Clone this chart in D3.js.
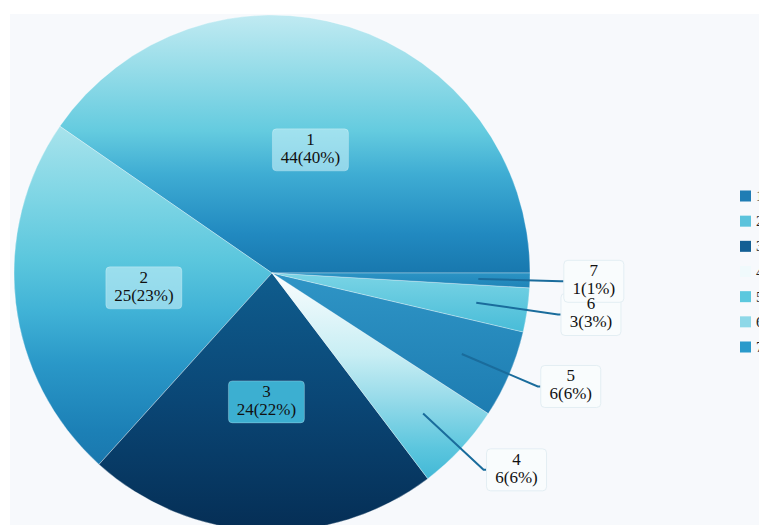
<!DOCTYPE html>
<html lang="en">
<head>
    <meta charset="UTF-8">
    <title>Pie chart</title>
    <script src="https://d3js.org/d3.v7.min.js"></script>
    <style>
        body { margin: 0; background: #ffffff; overflow: hidden; }
    </style>
</head>
<body>
    <div id="chart"></div>
    <script>
        // data
        const categories = ["1", "2", "3", "4", "5", "6", "7"];
        const values = [44, 25, 24, 6, 6, 3, 1];

        // colours: vertical gradient stops [offset, colour] for every slice, plus legend swatches
        const sliceStops = [
            [[0, "#c0eaf2"], [0.2, "#98dde9"], [0.45, "#64cbdf"], [0.62, "#3eacd3"], [0.85, "#2189c0"], [1, "#1878ae"]],
            [[0, "#a8e3ec"], [0.2, "#80d6e5"], [0.4, "#5ac6dd"], [0.55, "#40b2d6"], [0.7, "#2a98c8"], [0.9, "#1c80b6"], [1, "#1a78ae"]],
            [[0, "#0f5d8e"], [0.5, "#0a4675"], [1, "#052e55"]],
            [[0, "#fbfdfe"], [0.4, "#c8eef4"], [0.6, "#9adcea"], [0.85, "#5cc6de"], [1, "#42b8d6"]],
            [[0, "#2f95c6"], [1, "#1d7cb1"]],
            [[0, "#7ad4e5"], [1, "#48bcd8"]],
            [[0, "#2b93c4"], [1, "#1f84b8"]]
        ];
        const legendColors = ["#1f7db4", "#5cc3dc", "#135f94", "#f0fafc", "#5cc8de", "#8ed8e8", "#2a9acb"];
        const boxFills = ["rgba(200,240,248,0.6)", "rgba(200,240,248,0.6)", "#3cafd1"];

        const width = 759;
        const height = 525;
        const cx = 272, cy = 273, radius = 258;

        const svg = d3.select("#chart").append("svg")
            .attr("width", width)
            .attr("height", height);

        svg.append("rect")
            .attr("x", 10).attr("y", 14)
            .attr("width", width).attr("height", height)
            .attr("fill", "#f7f9fc");

        const defs = svg.append("defs");
        sliceStops.forEach((stops, i) => {
            const grad = defs.append("linearGradient")
                .attr("id", "grad" + i)
                .attr("x1", 0).attr("y1", 0).attr("x2", 0).attr("y2", 1);
            stops.forEach(s => {
                grad.append("stop").attr("offset", s[0]).attr("stop-color", s[1]);
            });
        });

        const total = d3.sum(values);
        const data = categories.map((c, i) => ({
            name: c,
            value: values[i],
            pct: Math.round(values[i] / total * 100),
            i: i
        }));

        // counter-clockwise, starting at 3 o'clock
        const pie = d3.pie()
            .sort(null)
            .value(d => d.value)
            .startAngle(Math.PI / 2)
            .endAngle(Math.PI / 2 - 2 * Math.PI);

        const arcs = pie(data);

        const arc = d3.arc().innerRadius(0).outerRadius(radius);
        const innerArc = d3.arc().innerRadius(radius * 0.8).outerRadius(radius * 0.8);
        const outerArc = d3.arc().innerRadius(radius * 1.12).outerRadius(radius * 1.12);

        const g = svg.append("g")
            .attr("transform", `translate(${cx},${cy})`);

        g.selectAll("path.slice")
            .data(arcs)
            .enter().append("path")
            .attr("class", "slice")
            .attr("d", arc)
            .attr("fill", d => `url(#grad${d.data.i})`)
            .attr("stroke", "rgba(255,255,255,0.3)")
            .attr("stroke-width", 1);

        const fontFamily = "'Liberation Serif', 'DejaVu Serif', serif";

        // label positions: big slices inside, small ones outside with a leader line
        const labels = arcs.map(d => {
            if (d.data.pct >= 10) {
                const [x, y] = arc.centroid(d);
                return { d: d, x: x, y: y, w: 76, fill: boxFills[d.data.i], stroke: "rgba(255,255,255,0.25)" };
            }
            const p0 = innerArc.centroid(d);
            const p1 = outerArc.centroid(d);
            g.append("polyline")
                .attr("points", [p0, p1, [p1[0] + 3, p1[1]]].map(p => p.join(",")).join(" "))
                .attr("fill", "none")
                .attr("stroke", "#1a6c9c")
                .attr("stroke-width", 2);
            return { d: d, x: p1[0] + 33, y: p1[1], w: 60, fill: "#f9fcfd", stroke: "#e3eef3" };
        });

        // boxes first, then all texts on top
        labels.forEach(l => {
            g.append("rect")
                .attr("x", l.x - l.w / 2).attr("y", l.y - 21)
                .attr("width", l.w).attr("height", 42)
                .attr("rx", 4)
                .attr("fill", l.fill)
                .attr("stroke", l.stroke);
        });
        labels.forEach(l => {
            g.append("text")
                .attr("text-anchor", "middle")
                .attr("font-family", fontFamily)
                .attr("font-size", 17)
                .attr("fill", "#111")
                .selectAll("tspan")
                .data([l.d.data.name, `${l.d.data.value}(${l.d.data.pct}%)`])
                .enter().append("tspan")
                .attr("x", l.x)
                .attr("y", (t, k) => l.y + (k === 0 ? -5 : 13))
                .text(t => t);
        });

        // legend, mostly cut off on the right
        const legendY = d3.scalePoint()
            .domain(categories)
            .range([196, 347]);

        const legend = svg.append("g");
        legend.selectAll("rect")
            .data(categories)
            .enter().append("rect")
            .attr("x", 740)
            .attr("y", d => legendY(d) - 5.5)
            .attr("width", 11)
            .attr("height", 11)
            .attr("fill", (d, i) => legendColors[i]);
        legend.selectAll("text")
            .data(categories)
            .enter().append("text")
            .attr("x", 756)
            .attr("y", d => legendY(d) + 5)
            .attr("font-family", fontFamily)
            .attr("font-size", 15)
            .attr("fill", "#222")
            .text(d => d);
    </script>
</body>
</html>
